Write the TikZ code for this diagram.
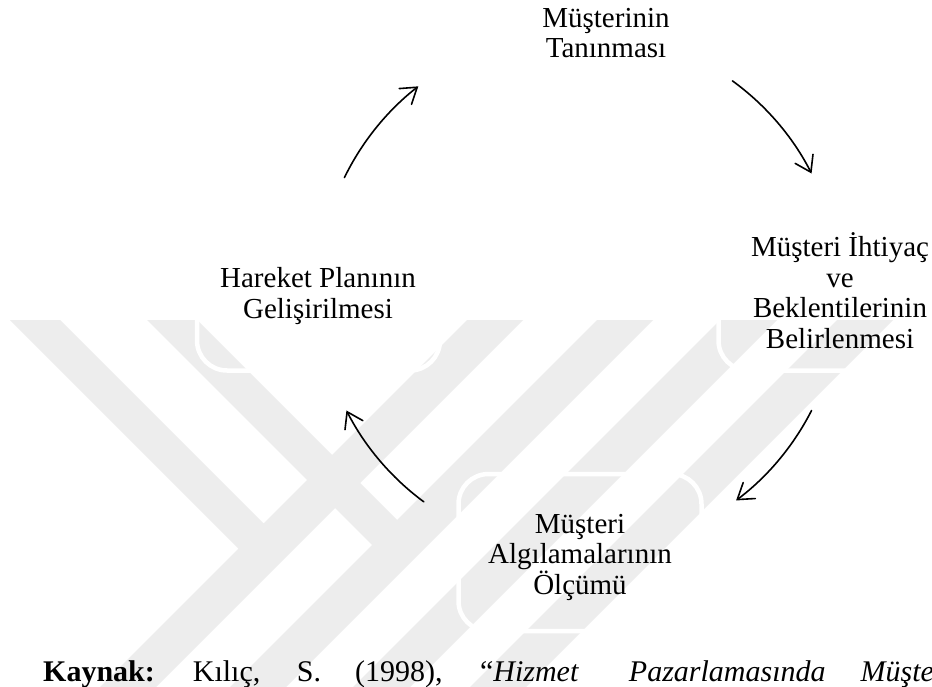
\documentclass[tikz,border=0pt]{standalone}
\usepackage{fontspec}
\setmainfont{Liberation Serif}
\usetikzlibrary{arrows.meta}
\begin{document}
\begin{tikzpicture}[x=1pt,y=-1pt,
  stage/.style={align=center,font=\fontsize{29}{30.5}\selectfont,inner sep=0pt,anchor=base},
  stagebox/.style={draw=white,line width=4.5pt,rounded corners=30pt,inner sep=0pt,
    minimum width=243pt,minimum height=157pt},
  wm/.style={fill=black!7},
  cyc/.style={line width=1.6pt,line cap=round,
    -{Straight Barb[length=15pt,width=20pt,line cap=round]}},
  srcline/.style={font=\fontsize{30}{32}\selectfont,inner sep=0pt,anchor=base west},
]
\useasboundingbox (0,0) rectangle (932,687);
\fill[white] (0,0) rectangle (932,687);

% pale background mark: two "y" strokes and two further diagonal bands
\fill[wm] (10,320) -- (60,320) -- (263.5,523.5) -- (467,320) -- (523,320)
  -- (156,687) -- (100,687) -- (238.5,548.5) -- cycle;
\fill[wm] (147,320) -- (197,320) -- (397,520) -- (597,320) -- (653,320)
  -- (286,687) -- (230,687) -- (372,545) -- cycle;
\fill[wm] (720,320) -- (777,320) -- (410,687) -- (353,687) -- cycle;
\fill[wm] (837,320) -- (893,320) -- (526,687) -- (470,687) -- cycle;

% rounded frames of the stages (white outline)
\node[stagebox] (tanbox) at (579,31) {};
\node[stagebox] (ihtbox) at (840,292) {};
\node[stagebox] (olcbox) at (580,552.5) {};
\node[stagebox] (harbox) at (318.5,292) {};

% stages of the cycle (anchored on the baseline of the last line)
\node[stage] (tan) at (606,58) {Müşterinin\\Tanınması};
\node[stage] (iht) at (840,348) {Müşteri İhtiyaç\\ve\\Beklentilerinin\\Belirlenmesi};
\node[stage] (olc) at (580,594) {Müşteri\\Algılamalarının\\Ölçümü};
\node[stage] (har) at (318,318) {Hareket Planının\\Gelişirilmesi};

% circular connectors around the centre of the cycle
\coordinate (c) at (579,292);
\draw[cyc] (c) ++(154:261pt) arc[start angle=154,end angle=128,radius=261pt];
\draw[cyc] (c) ++(54:261pt) arc[start angle=54,end angle=27,radius=261pt];
\draw[cyc] (c) ++(-27:261pt) arc[start angle=-27,end angle=-53,radius=261pt];
\draw[cyc] (c) ++(-126.5:261pt) arc[start angle=-126.5,end angle=-153,radius=261pt];

% source line
\node[srcline] (src) at (43,681) {\textbf{Kaynak:}\hspace{38pt}Kılıç,\hspace{36.5pt}S.\hspace{34pt}(1998),\hspace{37.5pt}“\textit{Hizmet}\hspace{50pt}\textit{Pazarlamasında}\hspace{35pt}\textit{Müşte}};
\end{tikzpicture}
\end{document}
